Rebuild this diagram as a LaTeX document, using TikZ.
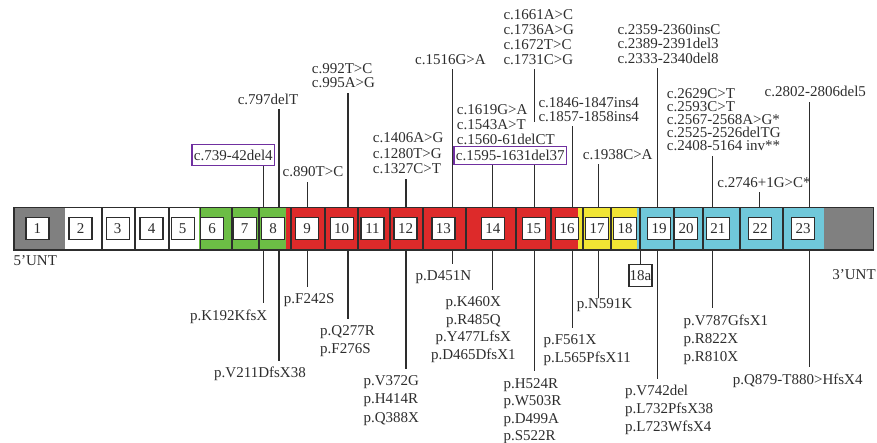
\documentclass[tikz,border=0pt]{standalone}
\usepackage{fontspec}
\setmainfont{Liberation Serif}
\definecolor{utrgray}{RGB}{128,128,128}
\definecolor{exgreen}{RGB}{108,190,69}
\definecolor{exred}{RGB}{221,42,42}
\definecolor{exyellow}{RGB}{241,229,52}
\definecolor{excyan}{RGB}{112,200,218}
\definecolor{delpurple}{RGB}{112,48,160}
\definecolor{ink}{RGB}{45,45,45}

\begin{document}
\begin{tikzpicture}[x=1pt,y=-1pt,font=\fontsize{15}{15}\selectfont]
    \tikzset{
        exon/.style={
            draw=ink,
            fill=white,
            line width=1.4pt,
            minimum width=23,
            minimum height=22,
            inner sep=0pt,
            text=ink
        },
        sep/.style={draw=ink,line width=1.2pt},
        stem/.style={draw=ink,line width=1.3pt},
        cvar/.style={font=\fontsize{15}{#1}\selectfont,text=ink,
            inner xsep=0pt,inner ysep=4.5pt,align=left},
        cvar/.default=15,
        pvar/.style={font=\fontsize{15}{#1}\selectfont,text=ink,
            inner xsep=0pt,inner ysep=6.5pt,align=left},
        pvar/.default=17.5,
        boxed/.style={cvar,draw=delpurple,line width=1.2pt,inner xsep=2pt,inner ysep=0pt}
    }

    \useasboundingbox (0,0) rectangle (877,443);

    % transcript bands
    \fill[utrgray] (14,208) rectangle (65,250);
    \fill[white] (65,208) rectangle (199,250);
    \fill[exgreen] (199,208) rectangle (286,250);
    \fill[exred] (286,208) rectangle (578,250);
    \fill[exyellow] (578,208) rectangle (637,250);
    \fill[excyan] (637,208) rectangle (824,250);
    \fill[utrgray] (824,208) rectangle (873.5,250);
    \foreach \x in {102,135,169,200.5,232,259,291,325,358,390,423,466,516,551,583,611,640,674,703,740,783}
        \draw[sep] (\x,208) -- (\x,250);
    \node[draw=ink,line width=1.4pt,minimum width=859.5,minimum height=42.3,inner sep=0pt]
        (bar) at (443.75,228.85) {};

    \foreach \n/\x in {1/37.3,2/80.5,3/117.7,4/151.5,5/182.7,6/212,7/244.7,8/273,
                       9/307,10/341.7,11/372.5,12/405.5,13/443.3,14/492.8,15/533.7,
                       16/567,17/597,18/625,19/659,20/686,21/717.8,22/760,23/803}
        \node[exon] (b\n) at (\x,228.5) {\n};
    \node[exon] (b18a) at (640.5,275.8) {18a};

    \node[text=ink,inner sep=0pt] (utr5) at (35.3,261) {5’UNT};
    \node[text=ink,inner sep=0pt] (utr3) at (854,275) {3’UNT};

    % cDNA changes
    \node[boxed,minimum height=21.4] (c739) at (233.3,155) {c.739-42del4};
    \node[cvar] (c797) at (268,99) {c.797delT};
    \node[cvar] (c890) at (313,172) {c.890T>C};
    \node[cvar=13.7,anchor=west] (c992) at (311.7,75.9) {c.992T>C\\c.995A>G};
    \node[cvar=15.9,anchor=west] (c1406) at (372.7,153.2)
        {c.1406A>G\\c.1280T>G\\c.1327C>T};
    \node[cvar] (c1516) at (450.5,59.3) {c.1516G>A};
    \node[cvar=15.35,anchor=west] (c1619) at (456.7,124.7)
        {c.1619G>A\\c.1543A>T\\c.1560-61delCT};
    \node[boxed,minimum height=17.6] (c1595) at (510.3,155.5) {c.1595-1631del37};
    \node[cvar=14.9,anchor=west] (c1661) at (503.3,37)
        {c.1661A>C\\c.1736A>G\\c.1672T>C\\c.1731C>G};
    \node[cvar=14,anchor=west] (c1846) at (538.3,109.7)
        {c.1846-1847ins4\\c.1857-1858ins4};
    \node[cvar] (c1938) at (617.7,154.3) {c.1938C>A};
    \node[cvar=14.5,anchor=west] (c2359) at (617.3,43.8)
        {c.2359-2360insC\\c.2389-2391del3\\c.2333-2340del8};
    \node[cvar=13.2,anchor=west] (c2629) at (666.7,119.7)
        {c.2629C>T\\c.2593C>T\\c.2567-2568A>G*\\c.2525-2526delTG\\c.2408-5164 inv**};
    \node[cvar] (c2746) at (764,182.7) {c.2746+1G>C*};
    \node[cvar] (c2802) at (815.3,91.7) {c.2802-2806del5};

    % protein changes
    \node[pvar] (k192) at (228.7,316.5) {p.K192KfsX};
    \node[pvar] (v211) at (260,374.2) {p.V211DfsX38};
    \node[pvar] (f242) at (309.2,300.5) {p.F242S};
    \node[pvar=17.6,anchor=west] (q277) at (320,341) {p.Q277R\\p.F276S};
    \node[pvar=18.3,anchor=west] (v372) at (363.3,400.5) {p.V372G\\p.H414R\\p.Q388X};
    \node[pvar] (d451) at (443.4,277.5) {p.D451N};
    \node[pvar=17.5,align=center] (k460) at (473.3,329.5)
        {p.K460X\\p.R485Q\\p.Y477LfsX\\p.D465DfsX1};
    \node[pvar=17.5,anchor=west] (h524) at (503.3,411)
        {p.H524R\\p.W503R\\p.D499A\\p.S522R};
    \node[pvar=17.3,anchor=west] (f561) at (543.3,350.2) {p.F561X\\p.L565PfsX11};
    \node[pvar,inner ysep=1pt] (n591) at (604.5,305.5) {p.N591K};
    \node[pvar=18,anchor=west] (v742) at (625,410.2)
        {p.V742del\\p.L732PfsX38\\p.L723WfsX4};
    \node[pvar=18.35,anchor=west] (v787) at (683.3,339.9)
        {p.V787GfsX1\\p.R822X\\p.R810X};
    \node[pvar] (q879) at (797.7,380.8) {p.Q879-T880>HfsX4};

    % stems
    \coordinate (m739) at (263.3,229);
    \coordinate (m797) at (279,229);
    \coordinate (m890) at (307.7,229);
    \coordinate (m992) at (348,229);
    \coordinate (m1406) at (406,229);
    \coordinate (m1516) at (452.6,229);
    \coordinate (m1619) at (492.5,229);
    \coordinate (m1661) at (534.2,229);
    \coordinate (g1661) at (534.2,121.7);
    \coordinate (m1846) at (572.3,229);
    \coordinate (m1938) at (598.7,229);
    \coordinate (m2359) at (657.7,229);
    \coordinate (m2629) at (712.3,229);
    \coordinate (m2746) at (759.3,229);
    \coordinate (m2802) at (809.8,229);

    \draw[stem] (m739 |- bar.north) -- (m739 |- c739.south);
    \draw[stem] (m797 |- bar.north) -- (m797 |- c797.south);
    \draw[stem] (m890 |- bar.north) -- (m890 |- c890.south);
    \draw[stem] (m992 |- bar.north) -- (m992 |- c992.south);
    \draw[stem] (m1406 |- bar.north) -- (m1406 |- c1406.south);
    \draw[stem] (m1516 |- bar.north) -- (m1516 |- c1516.south);
    \draw[stem] (m1619 |- bar.north) -- (m1619 |- c1595.south);
    \draw[stem] (m1661 |- bar.north) -- (m1661 |- c1595.south);
    \draw[stem] (m1661 |- c1661.south) -- (g1661);
    \draw[stem] (m1846 |- bar.north) -- (m1846 |- c1846.south);
    \draw[stem] (m1938 |- bar.north) -- (m1938 |- c1938.south);
    \draw[stem] (m2359 |- bar.north) -- (m2359 |- c2359.south);
    \draw[stem] (m2629 |- bar.north) -- (m2629 |- c2629.south);
    \draw[stem] (m2746 |- bar.north) -- (m2746 |- c2746.south);
    \draw[stem] (m2802 |- bar.north) -- (m2802 |- c2802.south);

    \draw[stem] (m739 |- bar.south) -- (m739 |- k192.north);
    \draw[stem] (m797 |- bar.south) -- (m797 |- v211.north);
    \draw[stem] (m890 |- bar.south) -- (m890 |- f242.north);
    \draw[stem] (m992 |- bar.south) -- (m992 |- q277.north);
    \draw[stem] (m1406 |- bar.south) -- (m1406 |- v372.north);
    \draw[stem] (m1516 |- bar.south) -- (m1516 |- d451.north);
    \draw[stem] (m1619 |- bar.south) -- (m1619 |- k460.north);
    \draw[stem] (m1661 |- bar.south) -- (m1661 |- h524.north);
    \draw[stem] (m1846 |- bar.south) -- (m1846 |- f561.north);
    \draw[stem] (m1938 |- bar.south) -- (m1938 |- n591.north);
    \draw[stem] (b18a.north |- bar.south) -- (b18a.north);
    \draw[stem] (m2359 |- bar.south) -- (m2359 |- v742.north);
    \draw[stem] (m2629 |- bar.south) -- (m2629 |- v787.north);
    \draw[stem] (m2802 |- bar.south) -- (m2802 |- q879.north);
\end{tikzpicture}
\end{document}
